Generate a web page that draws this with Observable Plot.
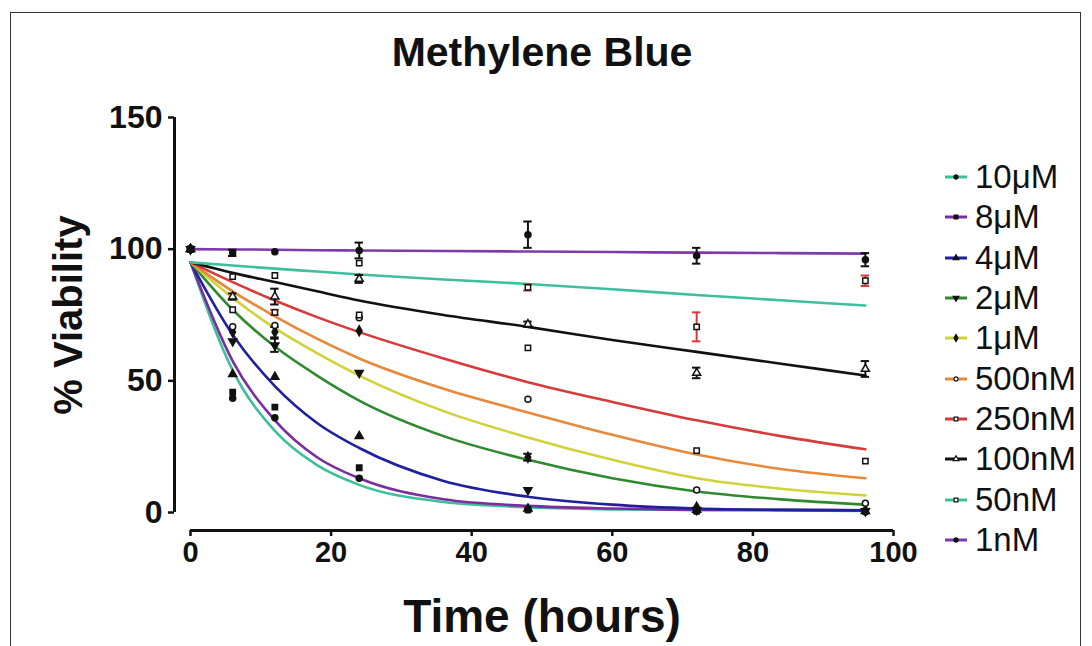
<!DOCTYPE html>
<html><head><meta charset="utf-8">
<script src="https://cdn.jsdelivr.net/npm/d3@7"></script>
<script src="https://cdn.jsdelivr.net/npm/@observablehq/plot@0.6"></script>
<style>
body{margin:0;background:#fff;}
#wrap{position:relative;width:1092px;height:646px;overflow:hidden;font-family:"Liberation Sans",Arial,sans-serif;background:#fff;}
#border{position:absolute;left:10px;top:12px;width:1071px;height:680px;border:1.5px solid #333;box-sizing:border-box;}
#chart{position:absolute;left:0;top:0;}
#legend{position:absolute;left:944px;top:157px;}
.row{display:flex;align-items:center;height:40.3px;font-size:33px;color:#111;}
.row svg{margin-right:7px;}
</style>
</head><body>
<div id="wrap"><div id="border"></div><div id="chart"></div><div id="legend"></div></div>
<script>
// ---- data ----
const series = ["10μM","8μM","4μM","2μM","1μM","500nM","250nM","100nM","50nM","1nM"];
const colors = ["#3dbf9c","#7a2d9e","#1f1fa0","#2f8a2f","#cfd23a","#e8883a","#d63a3a","#111111","#3dbf9c","#7e3aa8"];
const symbols = ["circle","square","triangle","triangle","diamond","circle","square","triangle","square","circle"];
const filledMarks = [true,true,true,true,true,false,false,false,false,true];
const xTicks = [0,20,40,60,80,100];
const yTicks = [0,50,100,150];

// measured points (mean) at these times
const pointTimes = [0,6,12,24,48,72,96];
const v10uM  = [100,43.4,36,13,1,0.5,0.3];
const v8uM   = [100,45.7,40,17,1,0.5,0.5];
const v4uM   = [100,52.5,51.5,29,1.5,1,0.5];
const v2uM   = [100,65,63.5,53,8.5,1,0.5];
const v1uM   = [100,68.5,68.5,69,21,2,0.8];
const v500nM = [100,70.5,71,74,43,8.5,3.5];
const v250nM = [100,77,76,75,85.5,70.5,88];
const v100nM = [100,82,82,88.7,71.5,53,54.5];
const v50nM  = [100,89.6,90,94.7,62.5,23.5,19.5];
const v1nM   = [100,98.6,99,99.5,105.5,97.5,96];

// error (SD) at the same times
const e10uM  = [0,0.5,0.5,0.5,0.3,0.2,0.2];
const e8uM   = [0,0.5,0.8,0.5,0.3,0.2,0.2];
const e4uM   = [0,0.5,0.5,0.5,0.3,0.2,0.2];
const e2uM   = [0,0.8,2.5,0.8,0.8,0.2,0.2];
const e1uM   = [0,0.8,2,0.8,1.3,0.3,0.2];
const e500nM = [0,0.5,0.5,0.5,0.5,0.3,0.3];
const e250nM = [0,0.8,1,0.8,1.2,5.5,2];
const e100nM = [0,1.2,3,1.5,1,2,3];
const e50nM  = [0,0.5,0.5,0.8,0.8,0.5,0.5];
const e1nM   = [0,1.2,0.5,3,5,3,2.5];

// fitted curves
const curveTimes = [0,6,12,18,24,36,48,60,72,84,96];
const c10uM  = [95,54,31,18,10.5,4,2,1.2,1,0.8,0.6];
const c8uM   = [95,57.5,35,21,13,5,2.5,1.5,1,1,0.8];
const c4uM   = [95,67.5,48,34,24.5,12,6,3,1.5,1,0.8];
const c2uM   = [95,77,63,52,42.5,29,20,13,8,5,3];
const c1uM   = [95,81.5,70,60.5,52,38.5,28.5,20,13,9,6.5];
const c500nM = [95,84,74.5,66,58.5,47,38,29.5,22,16.5,13];
const c250nM = [95,87.5,80.5,74.2,68.5,58.5,49.5,42,35,29,24];
const c100nM = [95,91,87.5,84,80.5,75,70.5,65.5,61,56.5,52];
const c50nM  = [95,93.8,92.6,91.5,90.4,88.5,86.8,84.8,82.6,80.6,78.6];
const c1nM   = [100,99.9,99.8,99.6,99.5,99.3,99.1,98.9,98.7,98.5,98.3];

const pointSets = [v10uM,v8uM,v4uM,v2uM,v1uM,v500nM,v250nM,v100nM,v50nM,v1nM];
const errSets = [e10uM,e8uM,e4uM,e2uM,e1uM,e500nM,e250nM,e100nM,e50nM,e1nM];
const curveSets = [c10uM,c8uM,c4uM,c2uM,c1uM,c500nM,c250nM,c100nM,c50nM,c1nM];

const curveRows = series.flatMap((s,i)=>curveTimes.map((t,j)=>({series:s,t,v:curveSets[i][j]})));
const pointRows = series.flatMap((s,i)=>pointTimes.map((t,j)=>({series:s,i,t,v:pointSets[i][j],e:errSets[i][j]})))
  .sort((a,b)=>(a.series==="8μM")-(b.series==="8μM"));
const errRows = pointRows.filter(d=>d.e>=1);
const barColor = d => d.series==="250nM" ? "#d63a3a" : "#111";

const chart = Plot.plot({
  width:1092, height:646,
  marginLeft:190, marginRight:199, marginTop:117, marginBottom:134,
  x:{domain:[0,100]},
  y:{domain:[0,150]},
  color:{domain:series, range:colors},
  symbol:{domain:series, range:symbols},
  style:{background:"transparent", fontFamily:"'Liberation Sans', Arial, sans-serif", color:"#111", overflow:"visible"},
  marks:[
    Plot.ruleX([0],{y1:0,y2:150,dx:-16,stroke:"#111",strokeWidth:3}),
    Plot.ruleY([0],{x1:0,x2:100,dy:18,stroke:"#111",strokeWidth:3}),
    Plot.axisY({ticks:yTicks, dx:-16, tickSize:6, tickPadding:6, fontSize:32, fontWeight:"bold", strokeWidth:2.5, label:null}),
    Plot.axisX({ticks:xTicks, dy:18, tickSize:6, tickPadding:5, fontSize:29, fontWeight:"bold", fontFamily:"'Liberation Sans Narrow', 'Liberation Sans', Arial", strokeWidth:2.5, label:null}),
    Plot.text(["Methylene Blue"],{frameAnchor:"top",lineAnchor:"middle",dy:-65,fontSize:41,fontWeight:"bold",fill:"#111"}),
    Plot.text(["% Viability"],{frameAnchor:"left",textAnchor:"middle",lineAnchor:"middle",dx:-121,rotate:-90,fontSize:40,fontWeight:"bold",fill:"#111"}),
    Plot.text(["Time (hours)"],{frameAnchor:"bottom",lineAnchor:"middle",dy:105,fontSize:46,fontWeight:"bold",fill:"#111"}),
    Plot.line(curveRows,{x:"t",y:"v",z:"series",stroke:"series",strokeWidth:2.6,curve:"monotone-x"}),
    Plot.ruleX(errRows,{x:"t",y1:d=>d.v-d.e,y2:d=>d.v+d.e,stroke:barColor,strokeWidth:2}),
    Plot.ruleY(errRows,{y:d=>d.v+d.e,x1:d=>d.t-0.6,x2:d=>d.t+0.6,stroke:barColor,strokeWidth:2}),
    Plot.ruleY(errRows,{y:d=>d.v-d.e,x1:d=>d.t-0.6,x2:d=>d.t+0.6,stroke:barColor,strokeWidth:2}),
    Plot.dot(pointRows,{x:"t",y:"v",symbol:"series",r:3,
      fill:d=>filledMarks[d.i]?"#111":"#fff",stroke:"#111",strokeWidth:1.5,
      rotate:d=>d.series==="2μM"?180:0})
  ]
});
document.getElementById("chart").appendChild(chart);

// legend
const leg = d3.select("#legend");
series.forEach((s,i)=>{
  const row = leg.append("div").attr("class","row");
  const svg = row.append("svg").attr("width",24).attr("height",14);
  svg.append("line").attr("x1",1).attr("x2",23).attr("y1",7).attr("y2",7).attr("stroke",colors[i]).attr("stroke-width",3);
  const sym = d3.symbol().type({circle:d3.symbolCircle,square:d3.symbolSquare,triangle:d3.symbolTriangle,diamond:d3.symbolDiamond}[symbols[i]]).size(14);
  svg.append("path").attr("d",sym()).attr("transform",`translate(12,7) rotate(${s==="2μM"?180:0})`)
    .attr("fill",filledMarks[i]?"#111":"#fff").attr("stroke","#111").attr("stroke-width",1.2);
  row.append("span").text(s);
});
</script>
</body></html>
